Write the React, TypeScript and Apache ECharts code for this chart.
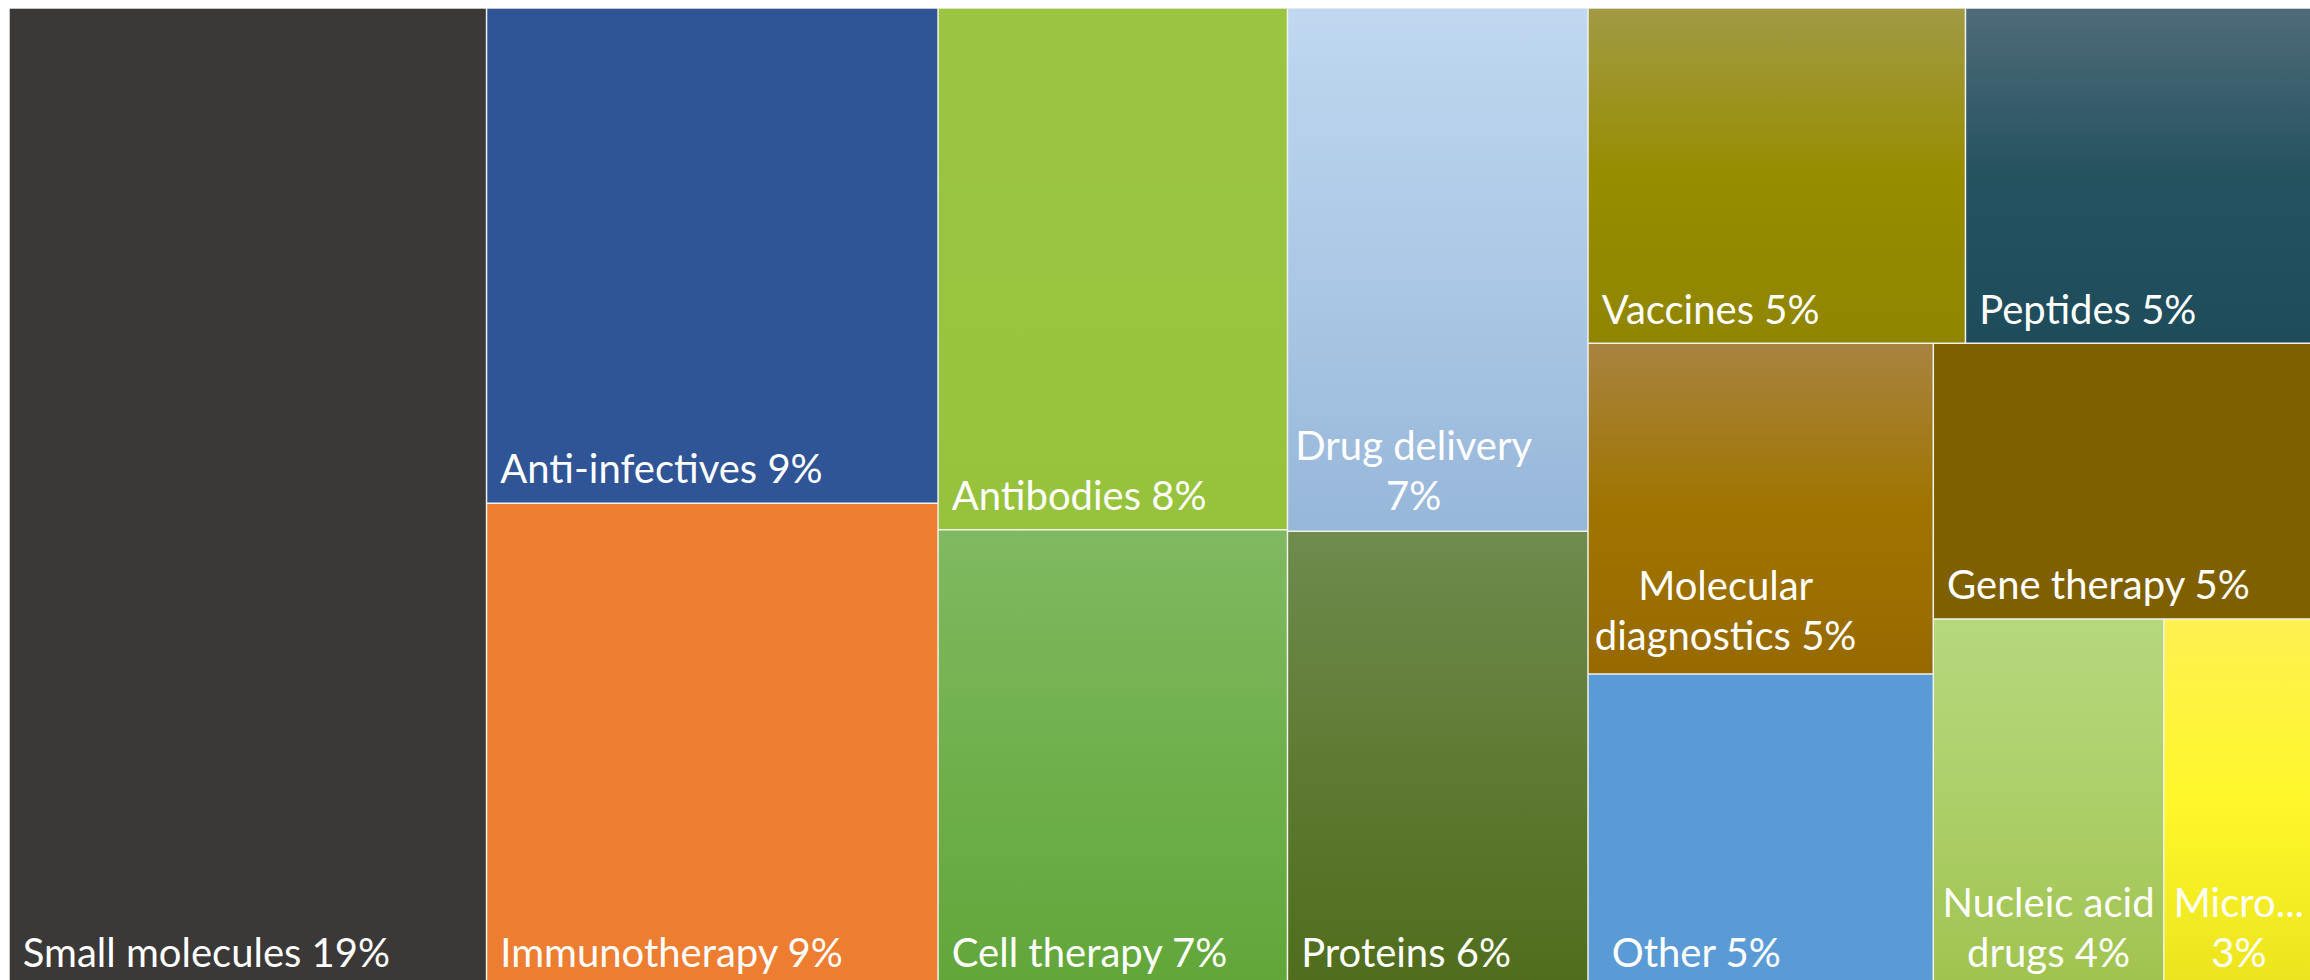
import React, { useEffect, useRef } from 'react';
import * as echarts from 'echarts';

// Category names as they appear on the tiles ("\n" = the line break seen in the picture)
const categories = [
  'Small molecules',
  'Anti-infectives',
  'Immunotherapy',
  'Antibodies',
  'Cell therapy',
  'Drug delivery',
  'Proteins',
  'Vaccines',
  'Peptides',
  'Molecular\ndiagnostics',
  'Other',
  'Gene therapy',
  'Nucleic acid\ndrugs',
  'Micro...',
];

// Percentages printed on the tiles
const shares = [19, 9, 9, 8, 7, 7, 6, 5, 5, 5, 5, 5, 4, 3];

// Relative tile sizes as measured in the picture (% of the whole treemap area)
const tileAreas = [20.72, 9.91, 9.68, 8.08, 7.08, 6.97, 6.07, 5.61, 5.18, 5.06, 4.79, 4.65, 3.76, 2.45];

// Tile fills (top -> bottom gradient stops)
const tileColors = [
  ['#3a3937'],
  ['#2f5597'],
  ['#ed7d31'],
  ['#9bc541', '#99c43f', '#96c23c'],
  ['#80b961', '#70b04c', '#62a63a'],
  ['#c0d8f0', '#acc8e6', '#97b7d9'],
  ['#6f8b4e', '#5f7b33', '#506c1c'],
  ['#a19a44', '#978d00', '#8f8500'],
  ['#4f6b79', '#25525f', '#1e4c5b'],
  ['#a8833f', '#a07400', '#966a00'],
  ['#5b9bd5'],
  ['#7f6000'],
  ['#b6d87d', '#adcf69', '#a0c34f'],
  ['#fff051', '#fff72a', '#ebe41e'],
];

// Grouping of the tiles (indices into the arrays above)
const nesting: any[] = [0, [[1, 2], [[3, 4], [5, 6, [7, 8, [9, 10, [11, 12, 13]]]]]]];

// Tiles whose percentage sits on its own line
const shareOnNewLine = ['Drug delivery', 'Micro...'];

const BORDER = '#f0f2ec';

const labelOverrides: Record<string, any> = {
  'Drug delivery': { position: 'insideBottom', offset: [-24, 0], padding: [0, 0, 11, 0] },
  'Molecular\ndiagnostics': { position: 'insideBottom', offset: [-35, 0], padding: [0, 0, 13, 0] },
  'Nucleic acid\ndrugs': { position: 'insideBottom', padding: [0, 0, 9, 0] },
  'Micro...': { position: 'insideBottom', padding: [0, 0, 9, 0] },
  Other: { padding: [0, 0, 9, 23] },
};

const gradient = (stops: string[]) =>
  stops.length === 1
    ? stops[0]
    : {
        type: 'linear',
        x: 0,
        y: 0,
        x2: 0,
        y2: 1,
        colorStops: stops.map((c, i) => ({ offset: i / (stops.length - 1), color: c })),
      };

function build(node: any): any {
  if (typeof node === 'number') {
    const name = categories[node];
    const item: any = {
      name,
      value: tileAreas[node],
      share: shares[node],
      itemStyle: { color: gradient(tileColors[node]), borderWidth: 0.75, borderColor: BORDER },
    };
    if (labelOverrides[name]) item.label = labelOverrides[name];
    return item;
  }
  return {
    name: '',
    itemStyle: { borderWidth: 0, gapWidth: 0, borderColor: BORDER },
    children: node.map(build),
  };
}

export default function App() {
  const ref = useRef<HTMLDivElement>(null);
  useEffect(() => {
    if (!ref.current) return;
    document.body.style.margin = '0';
    document.body.style.overflow = 'hidden';
    const chart = echarts.init(ref.current, undefined, { renderer: 'svg' });
    chart.setOption({
      animation: false,
      backgroundColor: '#ffffff',
      tooltip: { show: false },
      series: [
        {
          type: 'treemap',
          left: 9,
          top: 8,
          width: 2305,
          height: 979,
          sort: false,
          squareRatio: 1,
          roam: false,
          nodeClick: false,
          breadcrumb: { show: false },
          visibleMin: 0,
          emphasis: { disabled: true },
          itemStyle: { borderWidth: 0, gapWidth: 0, borderColor: BORDER },
          label: {
            show: true,
            position: 'insideBottomLeft',
            distance: 0,
            padding: [0, 0, 9, 13],
            color: '#ffffff',
            fontFamily: 'Lato',
            fontSize: 40,
            lineHeight: 50,
            overflow: 'none',
            textBorderWidth: 0,
            textBorderColor: 'transparent',
            formatter: (p: any) =>
              `${p.name}${shareOnNewLine.includes(p.name) ? '\n' : ' '}${p.data.share}%`,
          },
          upperLabel: { show: false },
          data: nesting.map(build),
        },
      ],
    });
    return () => chart.dispose();
  }, []);
  return <div ref={ref} style={{ width: 2310, height: 980, margin: 0 }} />;
}
